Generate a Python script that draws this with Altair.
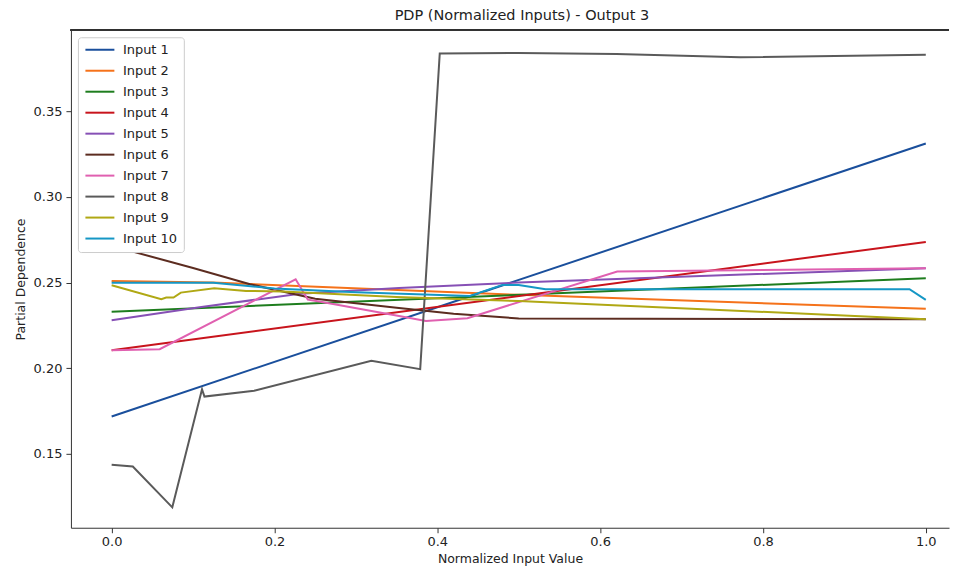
import altair as alt
import pandas as pd

names = [f"Input {i}" for i in range(1, 11)]
colors = ["#1a4f9c", "#f5721a", "#1e7d1e", "#c8141c", "#8650b5",
          "#5c2c20", "#e060b0", "#5a5a5a", "#b0a814", "#1597c5"]

x1 = [0.0, 1.0]
y1 = [0.1718, 0.3312]
x2 = [0.0, 0.124, 0.5, 1.0]
y2 = [0.2509, 0.2500, 0.2428, 0.2347]
x3 = [0.0, 1.0]
y3 = [0.2330, 0.2525]
x4 = [0.0, 1.0]
y4 = [0.2105, 0.2737]
x5 = [0.0, 0.108, 0.231, 0.353, 0.5, 1.0]
y5 = [0.2280, 0.2355, 0.2435, 0.2468, 0.2500, 0.2584]
x6 = [0.0, 0.1, 0.17, 0.25, 0.35, 0.42, 0.5, 1.0]
y6 = [0.2714, 0.2585, 0.2490, 0.2405, 0.2352, 0.2318, 0.2290, 0.2286]
x7 = [0.0, 0.059, 0.226, 0.241, 0.255, 0.353, 0.386, 0.437, 0.621, 1.0]
y7 = [0.2105, 0.2111, 0.2519, 0.2400, 0.2389, 0.2305, 0.2276, 0.2292, 0.2564, 0.2584]
x8 = [0.0, 0.026, 0.0745, 0.111, 0.114, 0.175, 0.319, 0.379, 0.403, 0.5, 0.62, 0.772, 1.0]
y8 = [0.1436, 0.1426, 0.1187, 0.1877, 0.1834, 0.1868, 0.2043, 0.1994, 0.3838, 0.3840, 0.3835, 0.3815, 0.3830]
x9 = [0.0, 0.061, 0.067, 0.076, 0.085, 0.126, 0.165, 0.21, 0.35, 0.5, 1.0]
y9 = [0.2484, 0.2403, 0.2412, 0.2412, 0.2441, 0.2467, 0.2451, 0.2448, 0.2416, 0.2392, 0.2286]
x10 = [0.0, 0.125, 0.2, 0.3, 0.44, 0.48, 0.5, 0.533, 0.98, 1.0]
y10 = [0.2499, 0.2499, 0.2465, 0.2443, 0.2422, 0.2486, 0.2486, 0.2461, 0.2461, 0.2399]

xs = [x1, x2, x3, x4, x5, x6, x7, x8, x9, x10]
ys = [y1, y2, y3, y4, y5, y6, y7, y8, y9, y10]

x_ticks = [0.0, 0.2, 0.4, 0.6, 0.8, 1.0]
y_ticks = [0.15, 0.20, 0.25, 0.30, 0.35]

rows = []
for n, xv, yv in zip(names, xs, ys):
    for i, (a, b) in enumerate(zip(xv, yv)):
        rows.append({"series": n, "x": a, "y": b, "i": i})
df = pd.DataFrame(rows)

W, H = 879, 498
FONT = "DejaVu Sans"

lines = alt.Chart(df).mark_line(strokeWidth=2).encode(
    x=alt.X("x:Q",
            scale=alt.Scale(domain=[-0.05, 1.0285], nice=False, zero=False),
            axis=alt.Axis(values=x_ticks, format=".1f", title="Normalized Input Value",
                          grid=False, tickSize=5, labelPadding=3, titlePadding=4,
                          domainColor="#333", tickColor="#333")),
    y=alt.Y("y:Q",
            scale=alt.Scale(domain=[0.1068, 0.3973], nice=False, zero=False),
            axis=alt.Axis(values=y_ticks, format=".2f", title="Partial Dependence",
                          grid=False, tickSize=5, labelPadding=4, titlePadding=6,
                          domainColor="#333", tickColor="#333")),
    color=alt.Color("series:N", sort=names,
                    scale=alt.Scale(domain=names, range=colors),
                    legend=alt.Legend(title=None, orient="none", legendX=7, legendY=7,
                                      symbolType="M-1,0H4.8", symbolSize=100,
                                      symbolStrokeWidth=2, labelFontSize=13,
                                      labelFont=FONT, labelColor="#222",
                                      labelOffset=26, rowPadding=7, padding=6,
                                      strokeColor="#cccccc", fillColor="white",
                                      cornerRadius=3)),
    order=alt.Order("i:Q"),
)

top = alt.Chart(df).mark_rule(color="#333", strokeWidth=1).encode(
    x=alt.value(0), x2=alt.value(W), y=alt.value(0)
)

chart = alt.layer(lines, top).properties(
    width=W, height=H,
    padding={"left": 6, "top": 0, "right": 0, "bottom": 0},
    title=alt.TitleParams("PDP (Normalized Inputs) - Output 3", fontSize=14.5, font=FONT,
                          fontWeight="normal", anchor="middle", dx=12, offset=6,
                          color="#222"),
).configure_view(stroke=None).configure_axis(
    labelFont=FONT, titleFont=FONT, labelFontSize=13, titleFontSize=12.5,
    labelColor="#222", titleColor="#222", titleFontWeight="normal"
)

chart.save("out.html", embed_options={"renderer": "svg", "actions": False})
